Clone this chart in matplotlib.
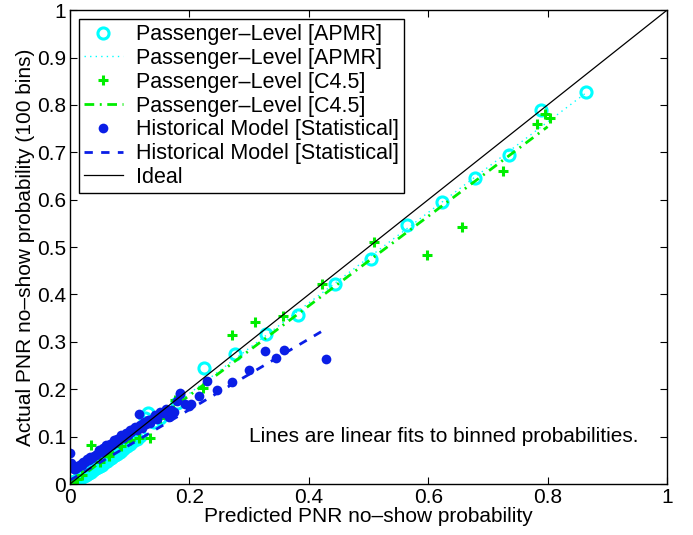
import matplotlib
matplotlib.use("Agg")
import matplotlib.pyplot as plt
import numpy as np

plt.rcParams['font.family'] = ['Liberation Sans', 'DejaVu Sans']

# ---- data ----
apmr_x = [0.865, 0.789, 0.736, 0.678, 0.623, 0.564, 0.505, 0.444, 0.382, 0.329, 0.276, 0.225,
          0.180, 0.150, 0.140, 0.131, 0.125, 0.118, 0.112, 0.106, 0.101, 0.096, 0.091, 0.087,
          0.083, 0.079, 0.075, 0.071, 0.068, 0.065, 0.062, 0.059, 0.056, 0.053, 0.050, 0.047,
          0.044, 0.041, 0.038, 0.035, 0.032, 0.029, 0.026, 0.023, 0.020, 0.017, 0.014, 0.011,
          0.008, 0.005, 0.002]
apmr_y = [0.827, 0.789, 0.695, 0.646, 0.596, 0.547, 0.474, 0.4225, 0.357, 0.316, 0.274, 0.244,
          0.172, 0.140, 0.130, 0.150, 0.140, 0.102, 0.096, 0.090, 0.085, 0.080, 0.076, 0.072,
          0.068, 0.064, 0.061, 0.058, 0.055, 0.052, 0.049, 0.047, 0.044, 0.041, 0.039, 0.036,
          0.034, 0.031, 0.029, 0.026, 0.024, 0.021, 0.019, 0.017, 0.015, 0.012, 0.010, 0.008,
          0.006, 0.003, 0.005]

c45_x = [0.804, 0.796, 0.782, 0.726, 0.657, 0.598, 0.510, 0.4215, 0.357, 0.310, 0.271, 0.223,
         0.176, 0.150, 0.134, 0.116, 0.100, 0.085, 0.065, 0.050, 0.036, 0.020, 0.012, 0.005]
c45_y = [0.773, 0.780, 0.759, 0.661, 0.542, 0.484, 0.510, 0.4225, 0.354, 0.342, 0.314, 0.203,
         0.178, 0.140, 0.097, 0.097, 0.092, 0.080, 0.060, 0.047, 0.082, 0.018, 0.011, 0.004]

hist_x = [0.428, 0.359, 0.345, 0.327, 0.299, 0.272, 0.247, 0.230, 0.216, 0.202, 0.184,
          0.200, 0.192, 0.185, 0.180, 0.175, 0.170, 0.165, 0.160, 0.155, 0.150, 0.146, 0.142,
          0.138, 0.134, 0.130, 0.127, 0.124, 0.121, 0.118, 0.115, 0.112, 0.109, 0.106, 0.103,
          0.100, 0.097, 0.094, 0.091, 0.088, 0.085, 0.082, 0.079, 0.076, 0.073, 0.070, 0.067,
          0.064, 0.061, 0.058, 0.055, 0.052, 0.049, 0.046, 0.043, 0.040, 0.037, 0.034, 0.031,
          0.028, 0.025, 0.022, 0.020, 0.018, 0.016, 0.014, 0.012, 0.010, 0.008, 0.006, 0.004,
          0.002, 0.000]
hist_y = [0.263, 0.2835, 0.265, 0.280, 0.240, 0.2155, 0.198, 0.2175, 0.186, 0.168, 0.192,
          0.165, 0.168, 0.190, 0.175, 0.152, 0.156, 0.142, 0.158, 0.150, 0.152, 0.138, 0.145,
          0.137, 0.128, 0.135, 0.126, 0.130, 0.118, 0.124, 0.148, 0.115, 0.121, 0.116, 0.110,
          0.113, 0.104, 0.108, 0.100, 0.097, 0.103, 0.093, 0.096, 0.087, 0.092, 0.083, 0.085,
          0.078, 0.082, 0.072, 0.075, 0.068, 0.071, 0.064, 0.062, 0.060, 0.055, 0.056, 0.050,
          0.052, 0.046, 0.047, 0.041, 0.043, 0.040, 0.036, 0.038, 0.034, 0.032, 0.031, 0.035,
          0.045, 0.065]

# linear fits (slope, intercept, x-range)
apmr_fit = [0.955, 0.000, 0.0, 0.865]
c45_fit = [0.945, -0.002, 0.0, 0.80]
hist_fit = [0.745, 0.008, 0.0, 0.428]

labels = ["Passenger\u2013Level [APMR]", "Passenger\u2013Level [APMR]",
          "Passenger\u2013Level [C4.5]", "Passenger\u2013Level [C4.5]",
          "Historical Model [Statistical]", "Historical Model [Statistical]", "Ideal"]

ticks = [0, 0.1, 0.2, 0.3, 0.4, 0.5, 0.6, 0.7, 0.8, 0.9, 1]
xticks = [0, 0.2, 0.4, 0.6, 0.8, 1]

# ---- drawing ----
FS = 15
fig = plt.figure(figsize=(6.93, 5.35), dpi=100)
ax = fig.add_axes([0.101, 0.0953, 0.8615, 0.8857])

cyan = '#00ffff'
green = '#00ee00'
blue = '#0a1ee6'

def fitline(p):
    xs = np.array([p[2], p[3]])
    return xs, p[0] * xs + p[1]

ax.plot(apmr_x, apmr_y, 'o', ls='none', mfc='none', mec=cyan, mew=2.2, ms=8, label=labels[0])
fx, fy = fitline(apmr_fit)
ax.plot(fx, fy, color=cyan, lw=1, ls=(0, (1, 3)), label=labels[1])
ax.plot(c45_x, c45_y, '+', ls='none', color=green, mew=2.2, ms=7, label=labels[2])
fx, fy = fitline(c45_fit)
ax.plot(fx, fy, color=green, lw=2, ls=(0, (3.5, 2, 0.7, 2)), label=labels[3])
ax.plot(hist_x, hist_y, 'o', ls='none', color=blue, ms=7, mew=0, label=labels[4])
fx, fy = fitline(hist_fit)
ax.plot(fx, fy, color=blue, lw=2, ls=(0, (3, 3)), label=labels[5])
ax.plot([0, 1], [0, 1], color='black', lw=0.9, label=labels[6])

ax.set_xlim(0, 1)
ax.set_ylim(0, 1)
ax.set_xticks(xticks)
ax.set_xticklabels(['0', '0.2', '0.4', '0.6', '0.8', '1'])
ax.set_yticks(ticks)
ax.set_yticklabels(['0', '0.1', '0.2', '0.3', '0.4', '0.5', '0.6', '0.7', '0.8', '0.9', '1'])
ax.tick_params(direction='in', length=5, width=0.8, top=True, right=True, labelsize=FS, pad=3)
for s in ax.spines.values():
    s.set_linewidth(1.0)

ax.set_xlabel("Predicted PNR no\u2013show probability", fontsize=FS, labelpad=0)
ax.set_ylabel("Actual PNR no\u2013show probability (100 bins)", fontsize=FS, labelpad=1)

ax.text(0.30, 0.101, "Lines are linear fits to binned probabilities.", fontsize=FS,
        ha='left', va='center', transform=ax.transData)

leg = ax.legend(loc='upper left', fontsize=15.5, frameon=True, fancybox=False, framealpha=1,
                edgecolor='black', labelspacing=0.13, borderaxespad=0.4, handlelength=1.8,
                handletextpad=0.6, borderpad=0.25)
leg.get_frame().set_linewidth(1.0)

fig.savefig("out.png", dpi=100)
